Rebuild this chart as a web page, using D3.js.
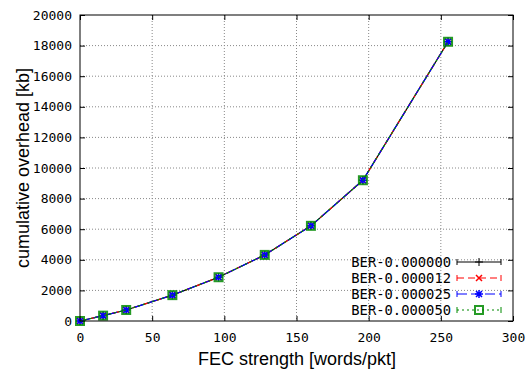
<!DOCTYPE html>
<html>
<head>
<meta charset="utf-8">
<script src="https://cdn.jsdelivr.net/npm/d3@7"></script>
<style>
body { margin: 0; background: #fff; }
svg { display: block; }
.tick text { font-family: "DejaVu Sans Mono", monospace; font-size: 13px; fill: #000; }
</style>
</head>
<body>
<svg width="531" height="371"></svg>
<script>
// FEC strength values (x) and cumulative overhead per BER series
var fecStrength = [0, 16, 32, 64, 96, 128, 160, 196, 255];
var ber000000 = [0, 350, 720, 1690, 2860, 4320, 6220, 9200, 18250];
var ber000012 = [0, 350, 720, 1690, 2860, 4320, 6220, 9200, 18250];
var ber000025 = [0, 350, 720, 1690, 2860, 4320, 6220, 9200, 18250];
var ber000050 = [0, 350, 720, 1690, 2860, 4320, 6220, 9200, 18250];
var seriesNames = ["BER-0.000000", "BER-0.000012", "BER-0.000025", "BER-0.000050"];
var xTicks = [0, 50, 100, 150, 200, 250, 300];
var yTicks = [0, 2000, 4000, 6000, 8000, 10000, 12000, 14000, 16000, 18000, 20000];

// plot box (window.top is taken, so use own names)
var pLeft = 80, pRight = 513, pTop = 15, pBottom = 321;
var svg = d3.select("svg");

var xScale = d3.scaleLinear().domain([0, 300]).range([pLeft, pRight]);
var yScale = d3.scaleLinear().domain([0, 20000]).range([pBottom, pTop]);

var series = [
    {name: seriesNames[0], vals: ber000000, color: "#000000", dash: null, mark: "plus"},
    {name: seriesNames[1], vals: ber000012, color: "#ff0000", dash: "7,4", mark: "cross"},
    {name: seriesNames[2], vals: ber000025, color: "#0000ff", dash: "10,4", mark: "star"},
    {name: seriesNames[3], vals: ber000050, color: "#008a00", dash: "2,3", mark: "square"}
];

// grid
var grid = svg.append("g");
grid.selectAll(".gx").data(xTicks.slice(1, -1)).enter().append("line")
    .attr("x1", function(d) {return xScale(d);}).attr("x2", function(d) {return xScale(d);})
    .attr("y1", pTop).attr("y2", pBottom)
    .attr("stroke", "#888").attr("stroke-dasharray", "1,2");
grid.selectAll(".gy").data(yTicks.slice(1, -1)).enter().append("line")
    .attr("y1", function(d) {return yScale(d);}).attr("y2", function(d) {return yScale(d);})
    .attr("x1", pLeft).attr("x2", pRight)
    .attr("stroke", "#888").attr("stroke-dasharray", "1,2");

// axes with inward ticks, mirrored on top/right
var fmt = d3.format("d");
svg.append("g").attr("transform", "translate(0," + pBottom + ")")
    .call(d3.axisBottom(xScale).tickValues(xTicks).tickFormat(fmt).tickSizeInner(-5).tickSizeOuter(0).tickPadding(12))
    .call(function(g) {g.select(".domain").remove();});
svg.append("g").attr("transform", "translate(0," + pTop + ")")
    .call(d3.axisTop(xScale).tickValues(xTicks).tickSizeInner(-5).tickSizeOuter(0).tickFormat(""))
    .call(function(g) {g.select(".domain").remove();});
svg.append("g").attr("transform", "translate(" + pLeft + ",0)")
    .call(d3.axisLeft(yScale).tickValues(yTicks).tickFormat(fmt).tickSizeInner(-5).tickSizeOuter(0).tickPadding(8))
    .call(function(g) {g.select(".domain").remove();});
svg.append("g").attr("transform", "translate(" + pRight + ",0)")
    .call(d3.axisRight(yScale).tickValues(yTicks).tickSizeInner(-5).tickSizeOuter(0).tickFormat(""))
    .call(function(g) {g.select(".domain").remove();});
svg.selectAll(".tick line").attr("stroke", "#000");

function marker(g, type, x, y, color) {
    if (type == "plus") {
        g.append("path").attr("d", "M" + (x-4) + "," + y + "h8M" + x + "," + (y-4) + "v8")
        .attr("stroke", color).attr("stroke-width", 1);
    } else if (type == "cross") {
        g.append("path").attr("d", "M" + (x-3) + "," + (y-3) + "l6,6M" + (x-3) + "," + (y+3) + "l6,-6")
        .attr("stroke", color).attr("stroke-width", 1.5);
    } else if (type == "star") {
        g.append("path").attr("d", "M" + (x-3) + "," + (y-3) + "l6,6M" + (x-3) + "," + (y+3) + "l6,-6M" + (x-4) + "," + y + "h8M" + x + "," + (y-4) + "v8")
        .attr("stroke", color).attr("stroke-width", 1.5);
    } else {
        g.append("rect").attr("x", x-4).attr("y", y-4).attr("width", 8).attr("height", 8)
        .attr("fill", "none").attr("stroke", color).attr("stroke-width", 2).attr("stroke-opacity", 0.85);
    }
}

var line = d3.line()
    .x(function(d) {return xScale(d[0]);})
    .y(function(d) {return yScale(d[1]);});

series.forEach(function(s) {
    var pts = fecStrength.map(function(x, i) {return [x, s.vals[i]];});
    var g = svg.append("g");
    g.append("path").attr("d", line(pts))
    .attr("fill", "none").attr("stroke", s.color).attr("stroke-width", 1.2)
    .attr("stroke-dasharray", s.dash);
    pts.forEach(function(p) {marker(g, s.mark, xScale(p[0]), yScale(p[1]), s.color);});
});

// border
svg.append("rect").attr("x", pLeft).attr("y", pTop).attr("width", pRight - pLeft).attr("height", pBottom - pTop)
    .attr("fill", "none").attr("stroke", "#000").attr("stroke-width", 1);

// legend
var legendY = [262, 278, 294, 310];
series.forEach(function(s, i) {
    var lg = svg.append("g");
    lg.append("text").attr("x", 451).attr("y", legendY[i]).attr("dy", "0.35em")
    .attr("text-anchor", "end").attr("font-family", "DejaVu Sans Mono, monospace").attr("font-size", 13.8)
    .text(s.name);
    lg.append("line").attr("x1", 457).attr("x2", 501).attr("y1", legendY[i]).attr("y2", legendY[i])
    .attr("stroke", s.color).attr("stroke-width", 1.2).attr("stroke-dasharray", s.dash);
    lg.append("line").attr("x1", 457).attr("x2", 457).attr("y1", legendY[i]-3).attr("y2", legendY[i]+3).attr("stroke", s.color);
    lg.append("line").attr("x1", 501).attr("x2", 501).attr("y1", legendY[i]-3).attr("y2", legendY[i]+3).attr("stroke", s.color);
    marker(lg, s.mark, 479, legendY[i], s.color);
});

// axis titles
svg.append("text").attr("x", 297).attr("y", 365).attr("text-anchor", "middle")
    .attr("font-family", "Liberation Sans, Arial, sans-serif").attr("font-size", 18)
    .text("FEC strength [words/pkt]");
svg.append("text").attr("transform", "translate(29,168) rotate(-90)").attr("text-anchor", "middle")
    .attr("font-family", "Liberation Sans, Arial, sans-serif").attr("font-size", 18)
    .text("cumulative overhead [kb]");
</script>
</body>
</html>
